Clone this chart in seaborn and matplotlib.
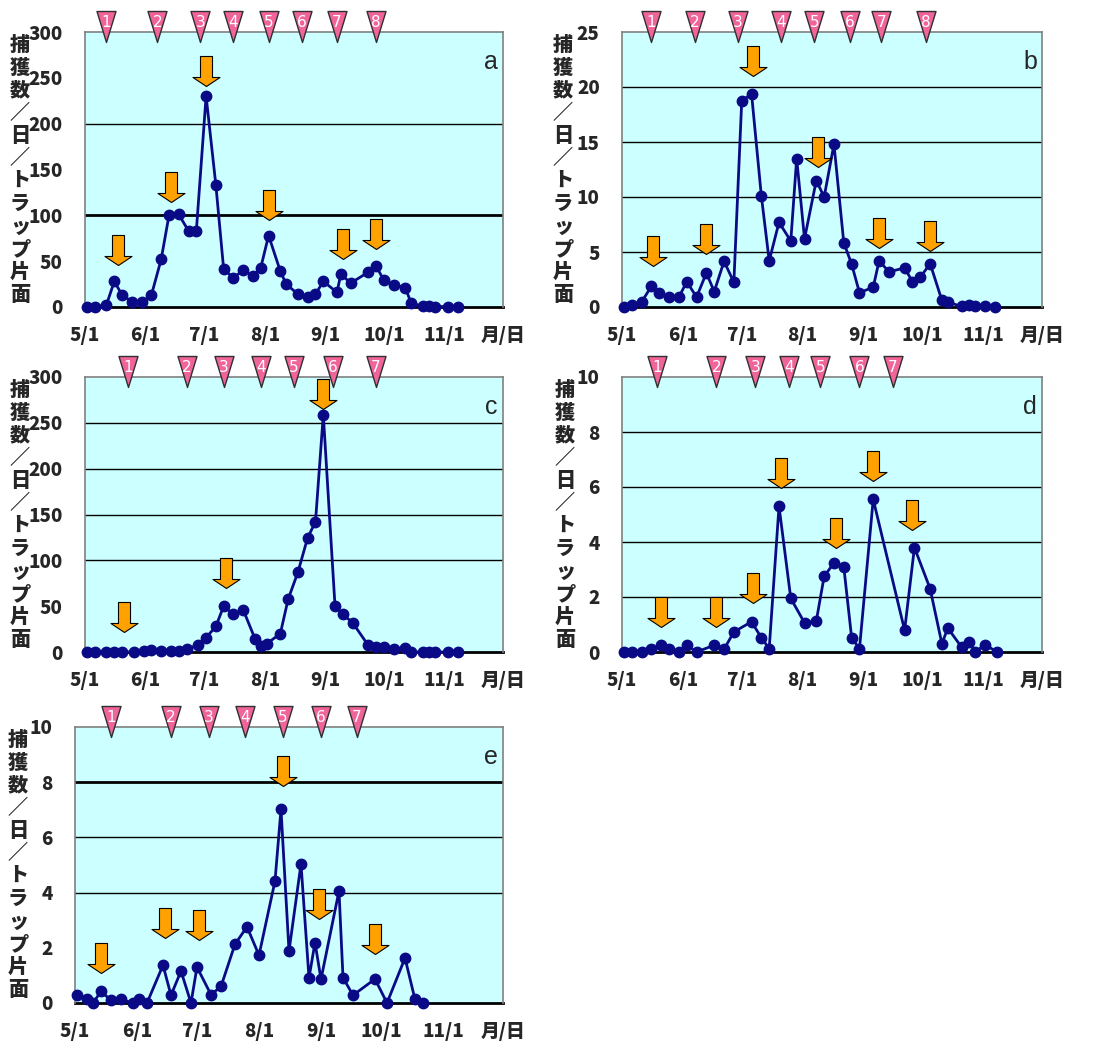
import numpy as np
import matplotlib
matplotlib.use('Agg')
import matplotlib.pyplot as plt
from matplotlib.path import Path
from matplotlib.transforms import ScaledTranslation
import seaborn as sns

# x values are days counted from 5/1
a_days = [1, 5, 11, 15, 19, 24, 29, 34, 39, 43, 48, 53, 57, 62, 67, 71, 76, 81, 86, 90, 94,
          100, 103, 109, 114, 118, 122, 129, 131, 136, 145, 149, 153, 158, 164, 167, 173,
          176, 179, 186, 191]
a_vals = [0, 0, 2.5, 28, 13, 6, 5, 13, 52, 100, 101, 83, 83, 230, 133, 41, 32, 40, 34, 43, 78,
          39, 25, 14, 10.5, 14, 28, 16, 36, 26, 38, 45, 29, 24, 21, 4, 1, 1, 0.5, 0.5, 0.5]

b_days = [1, 5, 10, 15, 19, 24, 29, 33, 38, 43, 47, 52, 57, 61, 66, 71, 75, 80, 86, 89, 93,
          99, 103, 108, 113, 117, 121, 128, 131, 136, 144, 148, 152, 157, 163, 166, 173,
          177, 180, 185, 190]
b_vals = [0, 0.15, 0.45, 1.9, 1.3, 0.9, 0.9, 2.3, 0.9, 3.1, 1.4, 4.15, 2.25, 18.7, 19.4, 10.1,
          4.2, 7.7, 6.0, 13.5, 6.2, 11.5, 10.0, 14.8, 5.85, 3.9, 1.3, 1.8, 4.2, 3.2, 3.55, 2.3,
          2.7, 3.95, 0.6, 0.45, 0.05, 0.15, 0.05, 0.05, 0]

c_days = [1, 5, 11, 15, 19, 25, 30, 34, 39, 44, 48, 52, 58, 62, 67, 71, 76, 81, 87, 90, 93,
          100, 104, 109, 114, 118, 122, 128, 132, 137, 145, 149, 153, 158, 164, 167, 173,
          176, 179, 186, 191]
c_vals = [0, 0, 0, 0, 0, 0, 1, 2, 0.7, 0.7, 0.7, 3.6, 7.3, 15.7, 28, 50, 41, 46, 14.6, 6.6, 9,
          20, 57.6, 87, 124.7, 142, 259, 50, 41, 32, 7.3, 5.5, 5.5, 3.6, 4.7, 0, 0, 0, 0, 0, 0]

d_days = [1, 5, 10, 15, 20, 24, 29, 33, 38, 47, 52, 57, 66, 71, 75, 80, 86, 93, 99, 103, 108,
          113, 117, 121, 128, 144, 149, 157, 163, 166, 173, 177, 180, 185, 191]
d_vals = [0, 0, 0, 0.1, 0.27, 0.1, 0, 0.25, 0, 0.25, 0.1, 0.73, 1.1, 0.52, 0.12, 5.3, 1.95,
          1.06, 1.13, 2.75, 3.24, 3.1, 0.52, 0.12, 5.55, 0.79, 3.8, 2.3, 0.3, 0.87, 0.18,
          0.36, 0, 0.27, 0]

e_days = [1, 6, 9, 13, 18, 23, 29, 32, 36, 44, 48, 53, 58, 61, 68, 73, 80, 86, 92, 100, 103,
          107, 113, 117, 120, 123, 132, 134, 139, 150, 156, 165, 170, 174]
e_vals = [0.28, 0.16, 0, 0.42, 0.1, 0.13, 0, 0.16, 0, 1.37, 0.28, 1.16, 0, 1.3, 0.3, 0.6,
          2.13, 2.76, 1.73, 4.42, 7.02, 1.88, 5.04, 0.91, 2.19, 0.86, 4.06, 0.92, 0.28, 0.87,
          0, 1.63, 0.13, 0]

# numbered markers above each panel (days)
a_tri = [11, 37, 59, 76, 94, 111, 129, 149]
b_tri = [15, 37, 59, 81, 98, 116, 132, 155]
c_tri = [22, 52, 71, 90, 107, 127, 149]
d_tri = [18, 48, 68, 85, 101, 121, 138]
e_tri = [18, 48, 67, 85, 104, 123, 141]

# orange arrows: day and value at the arrow tip
a_arr_days = [17, 44, 62, 94, 132, 149]
a_arr_vals = [46, 115, 241, 95, 52, 63]
b_arr_days = [16, 43, 67, 100, 131, 157]
b_arr_vals = [3.7, 4.85, 21.0, 12.7, 5.35, 5.05]
c_arr_days = [20, 72, 122]
c_arr_vals = [22, 70, 265]
d_arr_days = [20, 48, 67, 81, 109, 128, 148]
d_arr_vals = [0.9, 0.9, 1.8, 5.95, 3.8, 6.2, 4.45]
e_arr_days = [13, 45, 62, 104, 122, 150]
e_arr_vals = [1.09, 2.34, 2.3, 7.85, 3.06, 1.77]

# horizontal lines drawn in each panel
a_grid = [100, 200]
b_grid = [5, 10, 15, 20]
c_grid = [100, 150, 200, 250]
d_grid = [2, 4, 6, 8]
e_grid = [4, 6, 8]
thick_lines = {'a': [100], 'e': [8]}

month_ticks = [0, 31, 61, 92, 123, 153, 184, 214]
month_labels = ['5/1', '6/1', '7/1', '8/1', '9/1', '10/1', '11/1', '月/日']
ylabel_chars = list('捕獲数／日／トラップ片面')

sns.set_style('white')
plt.rcParams['font.family'] = ['Noto Sans CJK JP', 'DejaVu Sans']

NAVY = '#0a0a86'
BG = '#ccffff'
ORANGE = '#ffa200'
PINK = '#f0649a'

# down arrow with its tip at the origin
arrow_marker = Path([(0, 0), (13.5, 9), (6, 9), (6, 30), (-6, 30), (-6, 9), (-13.5, 9), (0, 0)],
                    closed=True)
arrow_ms = 2 * 30 * 0.72
# inverted triangle hanging from its top edge
tri_marker = Path([(-9.5, 0), (9.5, 0), (0, -31), (-9.5, 0)], closed=True)
tri_ms = 2 * 31 * 0.72

fig = plt.figure(figsize=(10.94, 10.41), dpi=100)
W, H = 1094, 1041

# name, data, ymax, ystep, grid, triangles, arrows, axes box in px (left, top, right, bottom), ylabel x offset
panels = [
    ('a', a_days, a_vals, 300, 50, a_grid, a_tri, a_arr_days, a_arr_vals, (85, 32, 503, 307), -65),
    ('b', b_days, b_vals, 25, 5, b_grid, b_tri, b_arr_days, b_arr_vals, (622, 32, 1042, 307), -59),
    ('c', c_days, c_vals, 300, 50, c_grid, c_tri, c_arr_days, c_arr_vals, (85, 377, 503, 652), -65),
    ('d', d_days, d_vals, 10, 2, d_grid, d_tri, d_arr_days, d_arr_vals, (622, 377, 1042, 652), -57),
    ('e', e_days, e_vals, 10, 2, e_grid, e_tri, e_arr_days, e_arr_vals, (75, 727, 503, 1003), -57),
]

for name, days, vals, ymax, ystep, grid, tri, arr_d, arr_v, box, ylab_dx in panels:
    l, t, r, b = box
    ax = fig.add_axes([l / W, 1 - b / H, (r - l) / W, (b - t) / H])
    ax.set_facecolor(BG)

    for g in grid:
        lw = 2.0 if g in thick_lines.get(name, []) else 1.0
        ax.axhline(g, color='black', lw=lw, zorder=1)

    sns.lineplot(x=days, y=vals, ax=ax, color=NAVY, lw=2, marker='o', ms=7.5,
                 mec=NAVY, mew=1, clip_on=False, zorder=3)

    ax.plot(arr_d, arr_v, ls='none', marker=arrow_marker, ms=arrow_ms, mfc=ORANGE,
            mec='black', mew=0.8, zorder=5, clip_on=False)

    up = ScaledTranslation(0, 21 / 100, fig.dpi_scale_trans)
    ax.plot(tri, [1] * len(tri), ls='none', marker=tri_marker, ms=tri_ms, mfc=PINK,
            mec='#303030', mew=1.0, transform=ax.get_xaxis_transform() + up,
            clip_on=False, zorder=6)
    for i, d in enumerate(tri):
        ax.annotate(str(i + 1), xy=(d, 1), xycoords=ax.get_xaxis_transform(),
                    xytext=(0, 21 * 0.72 - 8), textcoords='offset points',
                    ha='center', va='center', color='white', fontsize=11,
                    family=['DejaVu Sans'], zorder=7, annotation_clip=False)

    ax.set_xlim(0, 214)
    ax.set_ylim(0, ymax)
    ax.set_xticks(month_ticks, month_labels)
    yt = np.arange(0, ymax + ystep, ystep)
    ax.set_yticks(yt, [str(int(v)) for v in yt])
    ax.tick_params(axis='x', direction='in', length=4, color='#808080', pad=14, labelsize=13.5)
    ax.tick_params(axis='y', length=0, pad=16, labelsize=13.5)
    for lbl in ax.get_xticklabels() + ax.get_yticklabels():
        lbl.set_fontweight('heavy')
    ax.set_xlabel('')
    ax.set_ylabel('')

    for s in ['left', 'top', 'right']:
        ax.spines[s].set_color('#808080')
        ax.spines[s].set_linewidth(1.2)
    ax.spines['bottom'].set_color('black')
    ax.spines['bottom'].set_linewidth(2)
    ax.spines['bottom'].set_zorder(2)

    ax.text(0.972, 0.89, name, transform=ax.transAxes, ha='center', va='center',
            fontsize=18, family=['Liberation Sans', 'DejaVu Sans'])

    shift = ax.transAxes + ScaledTranslation(ylab_dx / 100, 0, fig.dpi_scale_trans)
    h = b - t
    for i, ch in enumerate(ylabel_chars):
        y = 1 - (13 + i * 22.7) / h
        ax.text(0, y, ch, transform=shift, ha='center', va='center', fontsize=14.5,
                fontweight='heavy')

fig.savefig('out.png', dpi=100)
